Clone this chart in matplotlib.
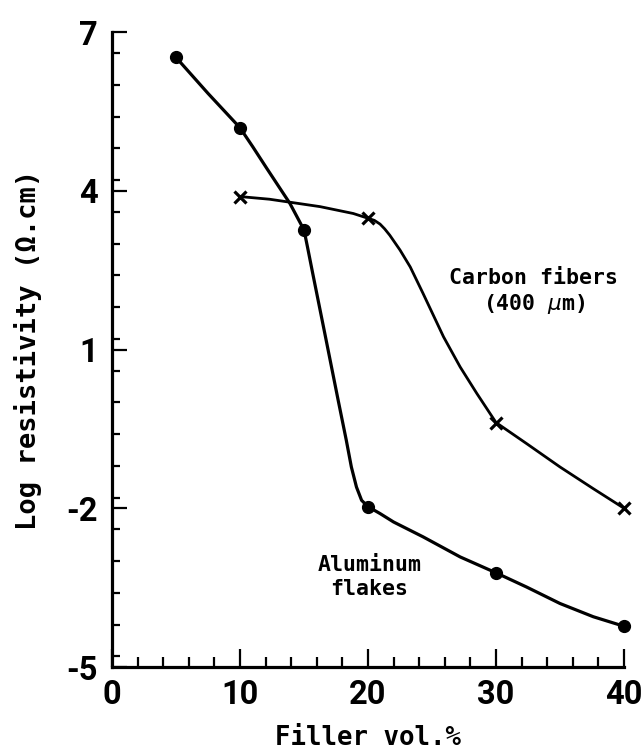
import matplotlib
matplotlib.use("Agg")
import matplotlib.pyplot as plt
from matplotlib.ticker import MultipleLocator

plt.rcParams["axes.unicode_minus"] = False

# measured points
al_x = [5, 10, 15, 20, 30, 40]
al_y = [6.52, 5.19, 3.26, -1.97, -3.22, -4.23]
cf_x = [10, 20, 30, 40]
cf_y = [3.89, 3.48, -0.38, -2.0]

# hand-drawn curve traces
al_line_x = [5, 7.5, 10, 11.0, 12.1, 13.0, 13.9, 15, 15.27, 15.68, 16.62, 17.67, 18.3, 18.7, 19.1, 19.5, 20,
             20.94, 22.0, 24.3, 27.2, 30, 32.4, 35, 37.6, 40]
al_line_y = [6.52, 5.84, 5.19, 4.83, 4.42, 4.09, 3.76, 3.26, 2.94, 2.44, 1.31, 0.04, -0.71, -1.22, -1.6, -1.85, -1.97,
             -2.1, -2.26, -2.54, -2.92, -3.22, -3.49, -3.8, -4.05, -4.23]
cf_line_x = [10, 12.3, 16.25, 18.85, 20, 20.5, 20.94, 21.3, 21.7, 22.5, 23.3, 24.3, 25.9, 27.2, 28.5, 30,
             32.4, 35, 37.6, 40]
cf_line_y = [3.89, 3.84, 3.7, 3.57, 3.48, 3.44, 3.37, 3.28, 3.16, 2.88, 2.56, 2.06, 1.24, 0.67, 0.17, -0.38,
             -0.78, -1.22, -1.63, -2.0]

y_ticks = [7, 4, 1, -2, -5]
x_ticks = [0, 10, 20, 30, 40]

mono = "DejaVu Sans Mono"

fig = plt.figure(figsize=(6.44, 7.55), dpi=100)
ax = fig.add_axes([112 / 644, 88 / 755, 512 / 644, 635 / 755])

ax.plot(al_line_x, al_line_y, color="black", lw=2.3, solid_joinstyle="round", solid_capstyle="round")
ax.plot(cf_line_x, cf_line_y, color="black", lw=2.0, solid_joinstyle="round", solid_capstyle="round")
ax.plot(al_x, al_y, "o", color="black", ms=8.5, clip_on=False)
ax.plot(cf_x, cf_y, "x", color="black", ms=8, mew=2.3, clip_on=False)

ax.text(32.95, 2.09, "Carbon fibers\n(400 $\\mu$m)", ha="center", va="center",
        family=mono, fontweight="bold", fontsize=15.5, linespacing=1.2)
ax.text(20.1, -3.30, "Aluminum\nflakes", ha="center", va="center",
        family=mono, fontweight="bold", fontsize=15.5, linespacing=1.2)

ax.set_xlim(0, 40)
ax.set_ylim(-5, 7)
ax.set_xticks(x_ticks)
ax.set_yticks(y_ticks)
ax.xaxis.set_minor_locator(MultipleLocator(2))
ax.yaxis.set_minor_locator(MultipleLocator(0.6))

for side in ("top", "right"):
    ax.spines[side].set_visible(False)
for side in ("left", "bottom"):
    ax.spines[side].set_linewidth(2.3)

ax.tick_params(which="both", direction="in", width=1.6, color="black")
ax.tick_params(axis="y", which="major", length=11, pad=10)
ax.tick_params(axis="y", which="minor", length=6)
ax.tick_params(axis="x", which="major", length=13, pad=9)
ax.tick_params(axis="x", which="minor", length=7)

for lab in ax.get_xticklabels() + ax.get_yticklabels():
    lab.set_fontfamily("Roboto")
    lab.set_fontweight("bold")
    lab.set_fontsize(23.5)

ax.set_xlabel("Filler vol.%", family=mono, fontweight="bold", fontsize=18.5, labelpad=10)
ax.set_ylabel("Log resistivity (\u03a9.cm)", family=mono, fontweight="bold", fontsize=19.5, labelpad=18)

fig.savefig("out.png", dpi=100)
